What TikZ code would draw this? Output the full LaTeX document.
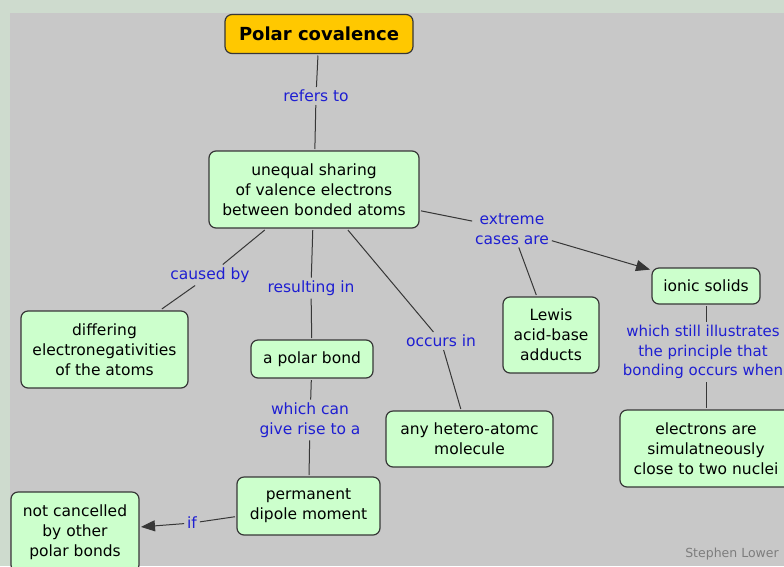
\documentclass[tikz,border=0pt]{standalone}
\usepackage{fontspec}
\setmainfont{DejaVu Sans}
\usetikzlibrary{arrows.meta}
\definecolor{outerbg}{RGB}{206,219,206}
\definecolor{innerbg}{RGB}{200,200,200}
\definecolor{conceptfill}{RGB}{204,255,204}
\definecolor{rootfill}{RGB}{255,200,0}
\definecolor{linkblue}{RGB}{30,30,210}
\definecolor{edgegray}{RGB}{55,55,55}
\definecolor{signgray}{RGB}{125,125,125}
\begin{document}
\begin{tikzpicture}[x=1pt,y=-1pt,
  concept/.style={draw=edgegray, line width=1.2pt, fill=conceptfill, rounded corners=7pt,
    align=center, font=\fontsize{15.5}{19.8}\selectfont, inner sep=0pt, outer sep=2pt},
  rootbox/.style={concept, fill=rootfill, font=\bfseries\fontsize{18}{21}\selectfont},
  link/.style={text=linkblue, align=center, font=\fontsize{15.5}{19.8}\selectfont,
    inner sep=2pt, outer sep=1pt},
  conn/.style={draw=edgegray, line width=1pt},
  arr/.style={conn, -{Triangle[length=14pt,width=11pt]}}]
\useasboundingbox (0,0) rectangle (784,566);
\clip (0,0) rectangle (784,566);
\fill[outerbg] (0,0) rectangle (784,566);
\fill[innerbg] (10,13) rectangle (784,566);

% concepts
\node[rootbox, minimum width=188pt, minimum height=39pt] (root) at (319,34) {Polar covalence};
\node[concept, minimum width=210pt, minimum height=77pt] (unequal) at (314,189.5)
  {unequal sharing\\of valence electrons\\between bonded atoms};
\node[concept, minimum width=167pt, minimum height=77pt] (differing) at (104.5,349.5)
  {differing\\electronegativities\\of the atoms};
\node[concept, minimum width=122pt, minimum height=38pt] (polarbond) at (312,359) {a polar bond};
\node[concept, minimum width=143pt, minimum height=58pt] (dipole) at (308.5,506)
  {permanent\\dipole moment};
\node[concept, minimum width=128pt, minimum height=80pt] (notcanc) at (75,532)
  {not cancelled\\by other\\polar bonds};
\node[concept, minimum width=167pt, minimum height=56pt] (hetero) at (469.5,439)
  {any hetero-atomc\\molecule};
\node[concept, minimum width=96pt, minimum height=76pt] (lewis) at (551,335)
  {Lewis\\acid-base\\adducts};
\node[concept, minimum width=108pt, minimum height=36pt] (ionic) at (706,286) {ionic solids};
\node[concept, minimum width=172pt, minimum height=77pt] (electrons) at (706,448.5)
  {electrons are\\simulatneously\\close to two nuclei};

% linking phrases
\node[link] (refers) at (316,96) {refers to};
\node[link] (caused) at (210,275) {caused by};
\node[link] (resulting) at (311,288) {resulting in};
\node[link] (giverise) at (310,420) {which can\\give rise to a};
\node[link] (iflab) at (192,523) {if};
\node[link] (occurs) at (441,341) {occurs in};
\node[link] (extreme) at (512,229) {extreme\\cases are};
\node[link, font=\fontsize{15}{19.8}\selectfont] (still) at (703,352)
  {which still illustrates\\the principle that\\bonding occurs when};

% connectors
\draw[conn] (root) -- (refers);
\draw[conn] (refers) -- (unequal);
\draw[conn] (unequal) -- (caused);
\draw[conn] (caused) -- (differing);
\draw[conn] (unequal) -- (resulting);
\draw[conn] (resulting) -- (polarbond);
\draw[conn] (polarbond) -- (giverise);
\draw[conn] (giverise) -- (dipole);
\draw[conn] (dipole) -- (iflab);
\draw[arr] (iflab) -- (notcanc);
\draw[conn] (unequal) -- (occurs);
\draw[conn] (occurs) -- (hetero);
\draw[conn] (unequal) -- (extreme);
\draw[arr] (extreme) -- (ionic);
\draw[conn] (extreme) -- (lewis);
\draw[conn] (ionic) -- (still.north -| ionic);
\draw[conn] (still.south -| electrons) -- (electrons);

\node[text=signgray, font=\fontsize{12.5}{15}\selectfont] (sign) at (732,554) {Stephen Lower};
\end{tikzpicture}
\end{document}
